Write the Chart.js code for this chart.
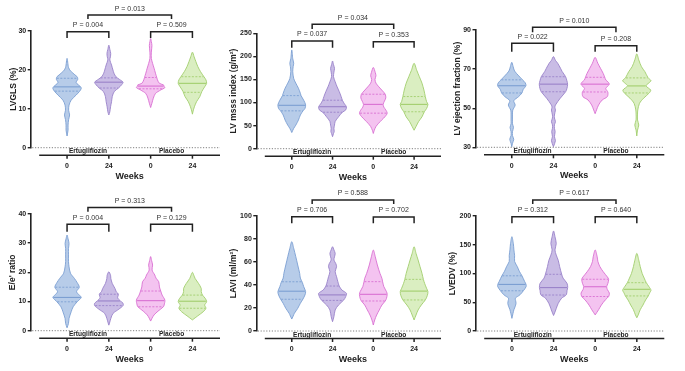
<!DOCTYPE html>
<html>
<head>
<meta charset="utf-8">
<script src="https://cdn.jsdelivr.net/npm/chart.js@4.4.1/dist/chart.umd.min.js"></script>
<style>
  html, body { margin: 0; padding: 0; background: #fff; }
  #wrap { position: relative; width: 685px; height: 371px; overflow: hidden; }
  #wrap canvas { position: absolute; }
</style>
</head>
<body>
<div id="wrap"></div>
<script>
// ── Data ──
const groupLabels = ['Ertugliflozin', 'Placebo'];
const weekLabels = ['0', '24', '0', '24'];
const panelTitles = ['LVGLS (%)', 'LV msss index (g/m²)', 'LV ejection fraction (%)', "E/e' ratio", 'LAVI (ml/m²)', 'LVEDV (%)'];
// [min, max, step] of each y axis
const axisRanges = [[0, 30, 10], [0, 250, 50], [30, 90, 20], [0, 40, 10], [0, 100, 20], [0, 200, 50]];
// P values: [ertu 0 vs 24, placebo 0 vs 24, between groups]
const pValues = [
  ['0.004', '0.509', '0.013'],
  ['0.037', '0.353', '0.034'],
  ['0.022', '0.208', '0.010'],
  ['0.004', '0.129', '0.313'],
  ['0.706', '0.702', '0.588'],
  ['0.312', '0.640', '0.617']
];

// violin outlines: y levels and relative density width (1 = widest), one row per violin
const lvglsLevels = [
  [3.0, 4.5, 5.8, 7.2, 8.4, 9.6, 10.9, 12.2, 13.5, 14.5, 15.2, 15.6, 16.7, 17.5, 17.8, 18.2, 19.5, 20.5, 22.9],
  [8.4, 9.2, 10.5, 11.8, 13.1, 14.4, 15.3, 16.1, 16.8, 17.5, 18.2, 19.1, 19.9, 21.2, 22.5, 23.3, 24.2, 25.2, 26.3],
  [10.3, 11.4, 12.7, 13.9, 14.8, 15.4, 15.8, 16.1, 16.5, 17.4, 18.0, 19.1, 20.4, 21.6, 22.9, 24.5, 26.2, 27.2, 28.0],
  [8.6, 9.7, 10.5, 11.8, 13.1, 14.4, 15.6, 16.5, 17.4, 18.2, 19.5, 20.8, 22.1, 23.3, 24.5]
];
const lvglsWidths = [
  [0, 0.07, 0.07, 0.11, 0.18, 0.11, 0.14, 0.29, 0.64, 0.89, 1.0, 0.96, 0.64, 0.75, 0.75, 0.71, 0.29, 0.11, 0],
  [0, 0.07, 0.12, 0.19, 0.24, 0.38, 0.68, 0.89, 1.0, 0.75, 0.5, 0.36, 0.29, 0.19, 0.07, 0.11, 0.13, 0.07, 0],
  [0, 0.09, 0.19, 0.34, 0.71, 1.0, 0.93, 0.91, 0.62, 0.48, 0.43, 0.34, 0.24, 0.14, 0.05, 0.05, 0.09, 0.05, 0],
  [0, 0.07, 0.14, 0.29, 0.52, 0.66, 0.86, 1.0, 0.95, 0.81, 0.57, 0.38, 0.24, 0.12, 0]
];
const lvglsStats = [[14.5, 15.6, 17.8], [15.3, 16.8, 17.9], [15.1, 15.8, 18.0], [14.2, 16.5, 18.2]];

const lvmiLevels = [
  [35, 44, 51, 62, 73, 82, 87, 95, 105, 115, 120, 131, 142, 152, 167, 178, 185, 195, 214],
  [26, 33, 37, 44, 51, 59, 69, 79, 84, 91, 97, 105, 113, 124, 134, 145, 156, 166, 174, 182, 190],
  [33, 40, 48, 55, 62, 70, 77, 84, 90, 96, 103, 110, 118, 125, 134, 142, 150, 158, 165, 176],
  [40, 48, 59, 69, 80, 87, 96, 102, 113, 127, 142, 156, 170, 185]
];
const lvmiWidths = [
  [0, 0.14, 0.29, 0.48, 0.62, 0.81, 0.95, 1.0, 0.86, 0.67, 0.62, 0.48, 0.29, 0.14, 0.07, 0.1, 0.14, 0.07, 0],
  [0, 0.07, 0.12, 0.1, 0.14, 0.19, 0.43, 0.71, 0.95, 1.0, 0.86, 0.71, 0.62, 0.48, 0.33, 0.19, 0.07, 0.1, 0.14, 0.07, 0],
  [0, 0.07, 0.19, 0.38, 0.6, 0.86, 1.0, 0.9, 0.76, 0.71, 0.8, 0.9, 0.86, 0.67, 0.4, 0.19, 0.12, 0.19, 0.14, 0],
  [0, 0.14, 0.33, 0.57, 0.74, 0.9, 1.0, 0.9, 0.81, 0.71, 0.57, 0.38, 0.19, 0]
];
const lvmiStats = [[82, 94, 115], [79, 91, 105], [77, 96, 118], [80, 96, 113]];

const lvefLevels = [
  [30.3, 32, 34.1, 36, 38, 40.2, 42, 44, 47, 49, 51.6, 53.8, 55.9, 57.8, 59.5, 61.5, 63, 64.5, 66.5, 69, 71.2, 73.5],
  [30.3, 33.4, 35.4, 38, 39.7, 41.5, 43.1, 45, 46.5, 49.1, 50.5, 51.6, 55.1, 58.4, 60, 62.3, 64, 66.1, 68.7, 70.4, 73, 74.5, 76.4],
  [47.2, 49.1, 51.6, 54.2, 55.9, 58.2, 60, 61, 62.3, 63.5, 64.4, 66, 67.8, 70.4, 73, 76],
  [35.8, 38.8, 41.4, 44, 47, 49.1, 52.5, 55.1, 57.8, 59.3, 61.4, 62.9, 64.1, 65.5, 68.7, 71.2, 74.7, 77.8]
];
const lvefWidths = [
  [0, 0.05, 0.14, 0.05, 0.05, 0.12, 0.05, 0.05, 0.05, 0.07, 0.24, 0.14, 0.48, 0.72, 0.8, 1.0, 0.95, 0.76, 0.5, 0.2, 0.1, 0],
  [0, 0.14, 0.07, 0.12, 0.07, 0.07, 0.14, 0.07, 0.07, 0.14, 0.1, 0.14, 0.48, 0.86, 0.95, 1.0, 0.95, 0.86, 0.62, 0.5, 0.3, 0.14, 0],
  [0, 0.1, 0.24, 0.5, 0.86, 0.9, 0.75, 0.85, 1.0, 0.9, 0.76, 0.67, 0.57, 0.38, 0.19, 0],
  [0, 0.05, 0.14, 0.05, 0.05, 0.07, 0.19, 0.48, 0.88, 0.98, 0.65, 0.85, 1.0, 0.8, 0.57, 0.33, 0.14, 0]
];
const lvefStats = [[57.8, 61.5, 64.5], [58.4, 62.3, 66.1], [58.3, 62.3, 65.8], [57.8, 61.4, 65.5]];

const eeLevels = [
  [1, 2.5, 4.2, 6.5, 8.2, 9.9, 11.4, 12.2, 13.4, 14.9, 16.5, 17.9, 19.7, 21.9, 23.7, 26, 28.2, 29.9, 31.5, 32.8],
  [1.9, 3, 4.2, 5.9, 7.4, 8.6, 9.4, 10.2, 11.3, 12.5, 13.4, 14.5, 16.2, 17.9, 19, 20.2],
  [3.3, 4.3, 5.4, 6.7, 8.2, 8.8, 10.5, 12.2, 13.6, 15, 16.8, 18, 19.1, 20.8, 22.5, 24, 25.4],
  [3.7, 5.1, 6.5, 7.7, 8.8, 9.9, 11.1, 12.2, 13.4, 14.5, 16.2, 17.9, 19, 20]
];
const eeWidths = [
  [0, 0.1, 0.14, 0.29, 0.43, 0.71, 1.0, 0.86, 0.67, 0.86, 0.71, 0.52, 0.24, 0.14, 0.1, 0.1, 0.1, 0.14, 0.07, 0],
  [0, 0.07, 0.14, 0.29, 0.71, 1.0, 1.0, 0.81, 0.62, 0.67, 0.52, 0.43, 0.24, 0.14, 0.12, 0],
  [0, 0.1, 0.24, 0.52, 0.9, 0.95, 1.0, 0.81, 0.71, 0.62, 0.57, 0.38, 0.29, 0.1, 0.14, 0.07, 0],
  [0, 0.38, 0.76, 0.95, 0.86, 1.0, 0.9, 0.71, 0.62, 0.62, 0.43, 0.19, 0.1, 0]
];
const eeStats = [[9.9, 11.4, 14.9], [8.6, 10.2, 12.5], [8.2, 10.3, 13.6], [7.7, 10.1, 12.2]];

const laviLevels = [
  [10.4, 13, 15.4, 19.7, 24.1, 27.8, 31.3, 34.2, 38.6, 42.3, 46, 50.1, 57.4, 64.6, 71.9, 77.7],
  [8.1, 12.5, 18.3, 22.6, 27, 29.9, 32.8, 35.7, 39.1, 43, 47.2, 51.6, 55.9, 58.5, 61.7, 64.5, 67.5, 70.5, 73.3],
  [5.2, 9.6, 13.9, 18.3, 22.6, 26.1, 28.4, 31.9, 34.2, 38.6, 42.9, 45.8, 50.1, 57.4, 64.6, 70.4],
  [9.6, 13.9, 18.3, 22.6, 27, 30.7, 34.2, 37.1, 41.4, 44.9, 50.1, 55.9, 61.7, 67.5, 73.3]
];
const laviWidths = [
  [0, 0.1, 0.19, 0.43, 0.62, 0.81, 0.95, 1.0, 0.86, 0.76, 0.62, 0.57, 0.43, 0.29, 0.14, 0],
  [0, 0.1, 0.19, 0.43, 0.81, 0.95, 1.0, 0.67, 0.48, 0.38, 0.29, 0.19, 0.29, 0.24, 0.1, 0.14, 0.19, 0.1, 0],
  [0, 0.1, 0.24, 0.43, 0.62, 0.86, 0.95, 1.0, 0.95, 0.76, 0.67, 0.62, 0.48, 0.29, 0.14, 0],
  [0, 0.14, 0.29, 0.52, 0.81, 0.95, 1.0, 0.9, 0.76, 0.67, 0.57, 0.43, 0.29, 0.14, 0]
];
const laviStats = [[27.6, 34.6, 42.8], [26.6, 31.4, 39.1], [26.1, 31.9, 42.9], [27, 34.7, 44.9]];

const lvedvLevels = [
  [22, 30, 37, 42, 48, 53, 57, 63, 70, 77, 81, 86, 96, 104, 112, 121, 131, 141, 152, 164],
  [27, 33, 39, 48, 57, 63, 70, 76, 83, 92, 99, 112, 123, 132, 141, 152, 164, 174],
  [28, 37, 45, 54, 60, 66, 72, 77, 83, 90, 94, 103, 112, 121, 129, 141],
  [23, 28, 37, 45, 54, 61, 66, 71, 77, 84, 92, 100, 112, 123, 135]
];
const lvedvWidths = [
  [0, 0.07, 0.14, 0.22, 0.29, 0.26, 0.24, 0.57, 0.81, 1.0, 1.0, 0.9, 0.71, 0.52, 0.38, 0.19, 0.19, 0.14, 0.1, 0],
  [0, 0.1, 0.19, 0.33, 0.57, 0.9, 0.95, 1.0, 0.95, 0.67, 0.57, 0.43, 0.33, 0.19, 0.1, 0.19, 0.1, 0],
  [0, 0.24, 0.43, 0.71, 0.95, 1.0, 0.86, 0.81, 0.9, 0.95, 0.86, 0.57, 0.33, 0.19, 0.14, 0],
  [0, 0.1, 0.24, 0.43, 0.62, 0.81, 0.9, 1.0, 0.86, 0.67, 0.52, 0.38, 0.24, 0.14, 0]
];
const lvedvStats = [[70, 81, 96], [62.6, 75.5, 98.6], [60, 77, 90], [61, 72.5, 84]];

// ── Styling / layout ──
const FONT = "'Liberation Sans', Arial, Helvetica, sans-serif";
const INK = '#222';
const HALF = 0.34;            // widest violin half-width in x units
const X_MIN = 0.13, X_MAX = 4.66;
const violinFill = ['#b7cce9', '#c9bce5', '#f4c3f0', '#daeec1'];
const violinLine = ['#7c9fd2', '#9a82c9', '#d970d2', '#a2ce6d'];

// canvas placement and chart-area edges (px, local to canvas); brackets in data units [legEnd, top]
const panels = [
  { left: 0,   top: 0,   w: 228, h: 185, axisX: 30.7, right: 220,   yTop: 30.7, yBot: 147.7, titleX: 13.3,
    levels: lvglsLevels, widths: lvglsWidths, stats: lvglsStats, bL: [28.1, 29.7], bR: [28.1, 29.7], bO: [33.0, 34.0] },
  { left: 222, top: 0,   w: 230, h: 185, axisX: 34.3, right: 219,   yTop: 33.3, yBot: 148.7, titleX: 12,
    levels: lvmiLevels, widths: lvmiWidths, stats: lvmiStats, bL: [218.8, 233.3], bR: [218.8, 231.8], bO: [259.3, 269.5] },
  { left: 446, top: 0,   w: 239, h: 185, axisX: 29.5, right: 218.3, yTop: 30,   yBot: 147.3, titleX: 11.7,
    levels: lvefLevels, widths: lvefWidths, stats: lvefStats, bL: [78.9, 83.2], bR: [78.9, 82.0], bO: [88.8, 91.4] },
  { left: 0,   top: 185, w: 228, h: 186, axisX: 30.7, right: 220,   yTop: 29,   yBot: 145.7, titleX: 13,
    levels: eeLevels, widths: eeWidths, stats: eeStats, bL: [33.9, 36.5], bR: [33.9, 36.5], bO: [40.8, 42.2] },
  { left: 222, top: 185, w: 230, h: 186, axisX: 34.3, right: 219,   yTop: 31,   yBot: 146,   titleX: 12,
    levels: laviLevels, widths: laviWidths, stats: laviStats, bL: [93.7, 99.4], bR: [93.7, 99.1], bO: [110.4, 113.9] },
  { left: 446, top: 185, w: 239, h: 186, axisX: 29.7, right: 218.3, yTop: 31,   yBot: 146,   titleX: 7,
    levels: lvedvLevels, widths: lvedvWidths, stats: lvedvStats, bL: [187.3, 198.8], bR: [187.3, 198.5], bO: [220.9, 227.8] }
];

// half-width of the outline at value v (for median / quartile lines)
function widthAt(levels, widths, v) {
  for (let k = 0; k < levels.length - 1; k++) {
    if (v >= levels[k] && v <= levels[k + 1]) {
      const t = (v - levels[k]) / (levels[k + 1] - levels[k]);
      return widths[k] + t * (widths[k + 1] - widths[k]);
    }
  }
  return 0;
}

function buildDatasets(p) {
  const ds = [];
  p.levels.forEach((lv, i) => {
    const wd = p.widths[i];
    const c = i + 1;
    const pts = [];
    for (let k = 0; k < lv.length; k++) pts.push({ x: c + wd[k] * HALF, y: lv[k] });
    for (let k = lv.length - 2; k >= 0; k--) pts.push({ x: c - wd[k] * HALF, y: lv[k] });
    ds.push({
      data: pts, order: 3, fill: 'shape', tension: 0.3,
      backgroundColor: violinFill[i], borderColor: violinLine[i], borderWidth: 0.9
    });
    // quartiles dashed, median solid
    p.stats[i].forEach((v, j) => {
      const hw = widthAt(lv, wd, v) * HALF * 0.96;
      ds.push({
        data: [{ x: c - hw, y: v }, { x: c + hw, y: v }], order: 2, fill: false, tension: 0,
        borderColor: violinLine[i], borderWidth: j === 1 ? 1.1 : 0.9,
        borderDash: j === 1 ? [] : [2, 1.5]
      });
    });
  });
  // significance brackets
  const br = (x1, x2, b) => ({
    data: [{ x: x1, y: b[0] }, { x: x1, y: b[1] }, { x: x2, y: b[1] }, { x: x2, y: b[0] }],
    order: 1, fill: false, tension: 0, borderColor: INK, borderWidth: 1.5,
    borderJoinStyle: 'miter', borderCapStyle: 'butt'
  });
  ds.push(br(1, 2, p.bL), br(3, 4, p.bR), br(1.5, 3.5, p.bO));
  return ds;
}

// zero line, grouped x axis, week labels and P values
const panelDecor = {
  id: 'panelDecor',
  afterDraw(chart, args, opts) {
    const { ctx, chartArea: a, scales: { x, y } } = chart;
    const p = opts.panel;
    ctx.save();
    const y0 = y.getPixelForValue(y.min);
    ctx.strokeStyle = '#808080';
    ctx.lineWidth = 1;
    ctx.setLineDash([1.2, 1.6]);
    ctx.beginPath(); ctx.moveTo(a.left + 1.5, y0); ctx.lineTo(a.right, y0); ctx.stroke();
    ctx.setLineDash([]);

    const gy = a.bottom + 7.5;
    const gx0 = a.left + 8.5;
    ctx.strokeStyle = INK;
    ctx.lineWidth = 1.5;
    ctx.beginPath(); ctx.moveTo(gx0, gy); ctx.lineTo(a.right, gy); ctx.stroke();
    ctx.fillStyle = INK;
    ctx.textAlign = 'center';
    ctx.textBaseline = 'middle';
    weekLabels.forEach((lab, i) => {
      const px = x.getPixelForValue(i + 1);
      ctx.beginPath(); ctx.moveTo(px, gy); ctx.lineTo(px, gy + 3.5); ctx.stroke();
      ctx.font = 'bold 7px ' + FONT;
      ctx.fillText(lab, px, gy + 10.8);
    });
    ctx.font = 'bold 6.6px ' + FONT;
    groupLabels.forEach((lab, g) => {
      const px = (x.getPixelForValue(2 * g + 1) + x.getPixelForValue(2 * g + 2)) / 2;
      ctx.fillText(lab, px, gy - 3.6);
    });
    ctx.font = 'bold 9px ' + FONT;
    ctx.fillText('Weeks', (gx0 + a.right) / 2, gy + 21);

    ctx.font = '7px ' + FONT;
    ctx.fillStyle = '#333';
    const pv = opts.pvals;
    const lab = (x1, x2, top, txt) => {
      ctx.fillText('P = ' + txt, (x.getPixelForValue(x1) + x.getPixelForValue(x2)) / 2, y.getPixelForValue(top) - 6.5);
    };
    lab(1, 2, p.bL[1], pv[0]);
    lab(3, 4, p.bR[1], pv[1]);
    lab(1.5, 3.5, p.bO[1], pv[2]);
    ctx.restore();
  }
};

Chart.defaults.font.family = FONT;
const wrap = document.getElementById('wrap');

panels.forEach((p, n) => {
  const cv = document.createElement('canvas');
  cv.width = p.w; cv.height = p.h;
  cv.style.left = p.left + 'px'; cv.style.top = p.top + 'px';
  cv.style.width = p.w + 'px'; cv.style.height = p.h + 'px';
  wrap.appendChild(cv);
  const [ymin, ymax, step] = axisRanges[n];
  new Chart(cv, {
    type: 'line',
    data: { datasets: buildDatasets(p) },
    options: {
      indexAxis: 'y',
      responsive: false,
      animation: false,
      devicePixelRatio: 1,
      events: [],
      layout: { padding: { left: 0, top: p.yTop, right: p.w - p.right, bottom: p.h - p.yBot } },
      elements: { point: { radius: 0 }, line: { borderJoinStyle: 'round' } },
      datasets: { line: { clip: false, pointRadius: 0 } },
      plugins: {
        legend: { display: false },
        tooltip: { enabled: false },
        panelDecor: { panel: p, pvals: pValues[n] }
      },
      scales: {
        x: { type: 'linear', display: false, min: X_MIN, max: X_MAX },
        y: {
          type: 'linear', position: 'left', min: ymin, max: ymax,
          afterFit: s => { s.width = p.axisX; },
          ticks: { stepSize: step, color: INK, padding: 1.5, font: { size: 7, weight: 'bold' } },
          grid: { drawOnChartArea: false, drawTicks: true, tickLength: 3, color: INK, lineWidth: 1.4 },
          border: { display: true, color: INK, width: 1.6 },
          title: {
            display: true, text: panelTitles[n], color: INK,
            font: { size: 8.5, weight: 'bold' },
            padding: { top: p.titleX - 5.1, bottom: 0 }
          }
        }
      }
    },
    plugins: [panelDecor]
  });
});
</script>
</body>
</html>
